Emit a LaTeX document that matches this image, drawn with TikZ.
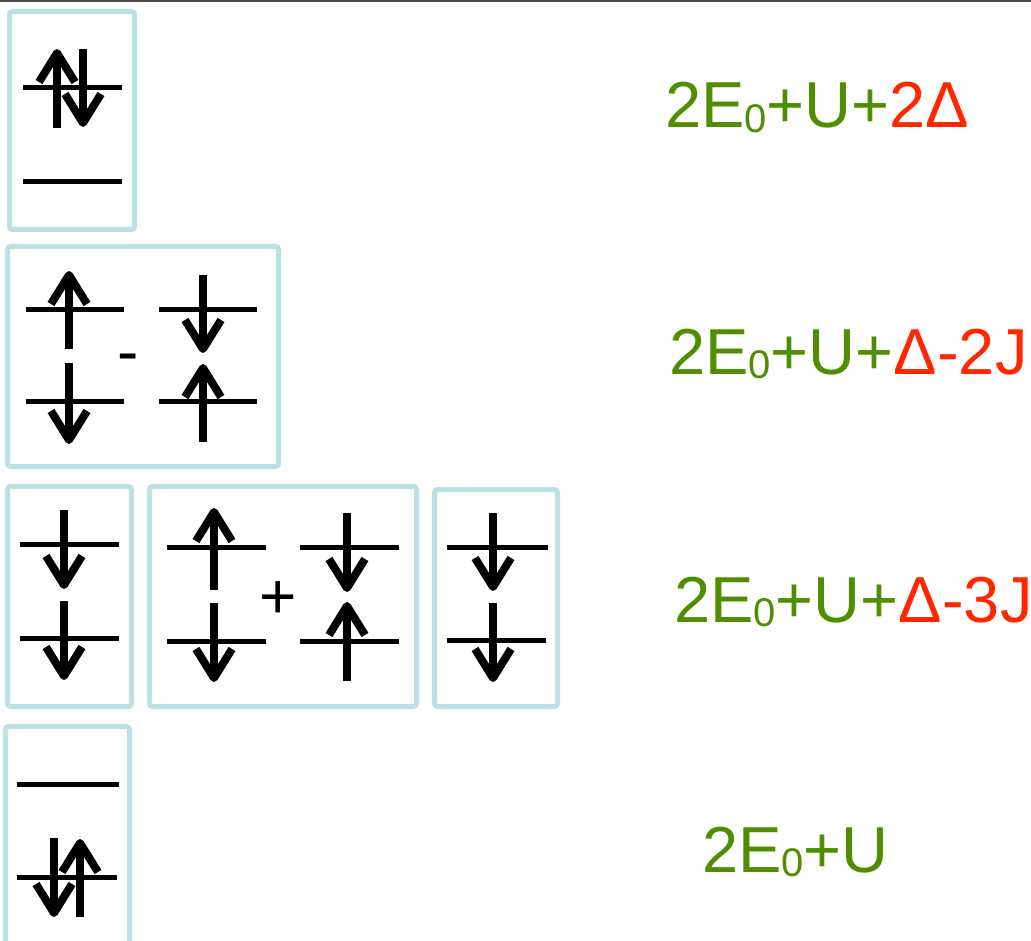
\documentclass[tikz,border=0pt]{standalone}
\usepackage{fontspec}
\setmainfont{Liberation Sans}
\definecolor{boxblue}{RGB}{189,224,228}
\definecolor{termgreen}{RGB}{78,142,0}
\definecolor{termred}{RGB}{255,38,0}

% spin arrows: x, tail y, outer tip y (y grows downwards)
\newcommand\spinup[3]{%
  \draw[spin] (#1,#2) -- (#1,{#3+4});
  \draw[spin] ({#1-18},{#3+33}) -- (#1,{#3+4}) -- ({#1+18},{#3+33});}
\newcommand\spindown[3]{%
  \draw[spin] (#1,#2) -- (#1,{#3-4});
  \draw[spin] ({#1-18},{#3-33}) -- (#1,{#3-4}) -- ({#1+18},{#3-33});}
% an orbital level: left x, right x, y
\newcommand\orbital[3]{\draw[level] (#1,#3) -- (#2,#3);}

\tikzset{
  statebox/.style={draw=boxblue, line width=5pt, rounded corners=3pt},
  level/.style={draw=black, line width=5pt},
  spin/.style={draw=black, line width=8pt, line join=round},
  sign/.style={anchor=base, inner sep=0pt, font=\fontsize{64}{64}\selectfont},
  energy/.style={anchor=base west, inner sep=0pt, font=\fontsize{65}{65}\selectfont, text=termgreen},
}
\newcommand\Ezero{2E\raisebox{-4.5pt}{\fontsize{40}{40}\selectfont 0}+U}

\begin{document}
\begin{tikzpicture}[x=1pt, y=-1pt]
\useasboundingbox (0,0) rectangle (1031,941);
\clip (0,0) rectangle (1031,941);
\fill[white] (0,0) rectangle (1031,941);
\draw[black!70, line width=2pt] (0,1) -- (1031,1);

% doubly occupied upper level
\draw[statebox] (9.5,11.5) rectangle (134.5,229.5);
\orbital{23}{122}{88}
\orbital{23}{122}{182}
\spinup{57}{128}{49}
\spindown{83}{49}{127}

% singlet combination
\draw[statebox] (7.5,246.5) rectangle (278.5,466.5);
\orbital{26}{124}{310}
\orbital{26}{124}{401}
\spinup{69}{349}{271}
\spindown{69}{363}{444}
\orbital{159}{257}{310}
\orbital{159}{257}{401}
\spindown{203}{275}{353}
\spinup{203}{442}{364}
\node[sign] (minus) at (128.5,373.5) {-};

% triplet states
\draw[statebox] (7.5,486.5) rectangle (131.5,706.5);
\orbital{20}{119}{544}
\orbital{20}{119}{638}
\spindown{64}{510}{589}
\spindown{64}{601}{680}

\draw[statebox] (149.5,486.5) rectangle (416.5,706.5);
\orbital{167}{266}{547}
\orbital{167}{266}{641}
\spinup{214}{590}{508}
\spindown{214}{603}{682}
\orbital{300}{399}{547}
\orbital{300}{399}{641}
\spindown{347}{513}{592}
\spinup{347}{681}{602}
\node[sign] (plus) at (278,618.5) {+};

\draw[statebox] (434.5,489.5) rectangle (557.5,706.5);
\orbital{447}{548}{547}
\orbital{447}{546}{640}
\spindown{493}{513}{591}
\spindown{493}{603}{682}

% doubly occupied lower level
\draw[statebox] (5.5,726.5) rectangle (129.5,990);
\orbital{17}{119}{784}
\orbital{17}{117}{877}
\spindown{54}{838}{917}
\spinup{80}{917}{839}

% energies
\node[energy] (e1) at (665,128) {\Ezero+\textcolor{termred}{2Δ}};
\node[energy] (e2) at (669,374) {\Ezero+\textcolor{termred}{Δ-2J}};
\node[energy] (e3) at (674,622) {\Ezero+\textcolor{termred}{Δ-3J}};
\node[energy] (e4) at (702,872) {\Ezero};
\end{tikzpicture}
\end{document}
